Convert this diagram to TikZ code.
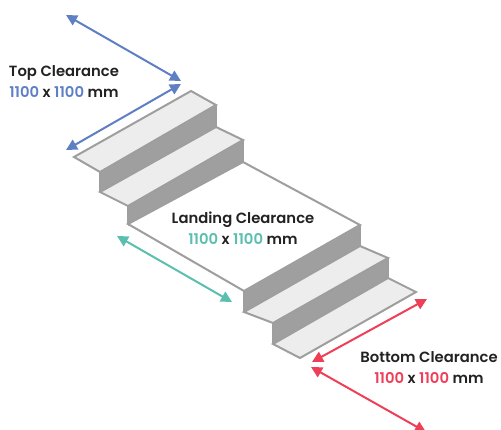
\documentclass[tikz,border=0pt]{standalone}
\usepackage{fontspec}
\setmainfont{Poppins}[BoldFont={Poppins SemiBold}]
\usetikzlibrary{arrows.meta}
\definecolor{blueA}{HTML}{5F7FC4}
\definecolor{tealA}{HTML}{5BBFB0}
\definecolor{redA}{HTML}{EE3F59}
\definecolor{edgeG}{HTML}{9E9E9E}
\definecolor{treadG}{HTML}{EDEDED}
\definecolor{riserG}{HTML}{9F9F9F}
\definecolor{inkA}{HTML}{222222}
\tikzset{
 tread/.style={draw=edgeG,fill=treadG,line width=2pt,line join=miter},
 landing/.style={draw=edgeG,fill=white,line width=2pt},
 edgeline/.style={draw=edgeG,line width=2pt},
 dim/.style={line width=2pt,{Triangle[length=11pt,width=11pt]}-{Triangle[length=11pt,width=11pt]}},
 lab/.style={align=center,font=\fontsize{14.8}{21}\selectfont\bfseries,text=inkA,inner sep=0pt}
}
\begin{document}
\begin{tikzpicture}[x=1pt,y=-1pt]
\useasboundingbox (0,0) rectangle (501,430);
% stairs, upper flight
\fill[riserG] (216,105) -- (216,127) -- (100,192) -- (100,172) -- cycle;
\fill[riserG] (243,140) -- (243,162) -- (128,226) -- (128,206) -- cycle;
\draw[tread] (191,91) -- (216,105) -- (100,172) -- (74,157) -- cycle;
\draw[tread] (216,127) -- (243,140) -- (128,206) -- (100,192) -- cycle;
\draw[edgeline] (216,105) -- (216,127) (100,172) -- (100,192) (243,140) -- (243,162) (128,206) -- (128,224);
% landing
\draw[landing] (243,162) -- (360,225) -- (244,291) -- (128,224) -- cycle;
% lower flight
\fill[riserG] (360,225) -- (360,246) -- (244,312) -- (244,291) -- cycle;
\fill[riserG] (388,258) -- (388,278) -- (273,344) -- (273,323) -- cycle;
\draw[tread] (360,246) -- (388,258) -- (273,323) -- (244,312) -- cycle;
\draw[tread] (388,278) -- (416,292) -- (300,358) -- (273,344) -- cycle;
\draw[edgeline] (360,225) -- (360,246) (244,291) -- (244,312) (388,258) -- (388,278) (273,323) -- (273,344);
% arrow ends
\coordinate (ta) at (66,15);
\coordinate (tb) at (181,81);
\coordinate (tc) at (181,84);
\coordinate (td) at (66,150);
\coordinate (la) at (117,236);
\coordinate (lb) at (232,302);
\coordinate (ba) at (427,299);
\coordinate (bb) at (312,362);
\coordinate (bc) at (311,367);
\coordinate (bd) at (426,432);
\draw[dim,blueA] (ta) -- (tb);
\draw[dim,blueA] (tc) -- (td);
\draw[dim,tealA] (la) -- (lb);
\draw[dim,redA] (ba) -- (bb);
\draw[dim,redA] (bc) -- (bd);
% labels
\node[lab] (top) at (64,82) {Top Clearance\\\textcolor{blueA}{1100} x \textcolor{blueA}{1100} mm};
\node[lab] (land) at (243,228) {Landing Clearance\\\textcolor{tealA}{1100} x \textcolor{tealA}{1100} mm};
\node[lab] (bot) at (429,368) {Bottom Clearance\\\textcolor{redA}{1100} x \textcolor{redA}{1100} mm};
\end{tikzpicture}
\end{document}
